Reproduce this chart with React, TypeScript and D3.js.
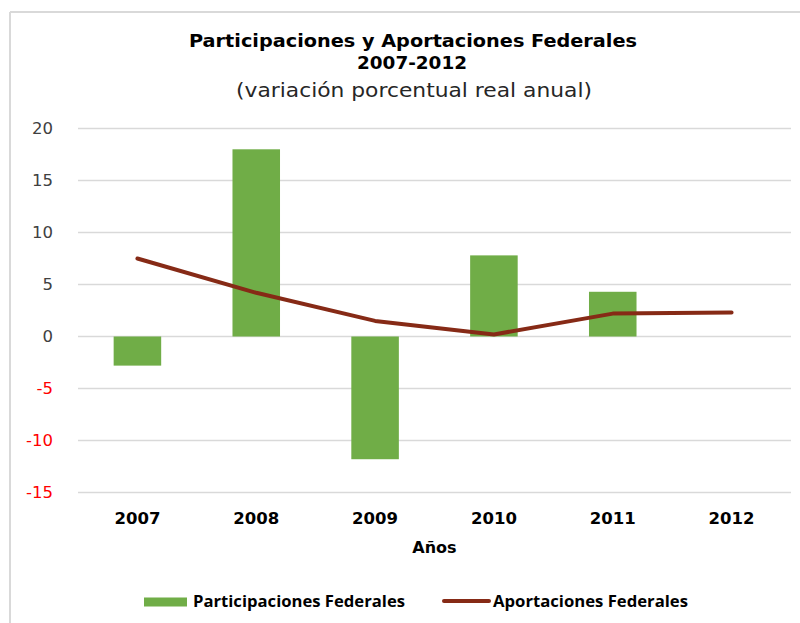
import React from "react";
import * as d3 from "d3";

const years = ["2007", "2008", "2009", "2010", "2011", "2012"];
const participaciones: (number | null)[] = [-2.8, 18.0, -11.8, 7.8, 4.3, null];
const aportaciones = [7.5, 4.2, 1.5, 0.2, 2.2, 2.3];
const yTicks = [-15, -10, -5, 0, 5, 10, 15, 20];

const titleLines = ["Participaciones y Aportaciones Federales", "2007-2012"];
const subtitle = "(variación porcentual real anual)";
const xTitle = "Años";
const seriesNames = ["Participaciones Federales", "Aportaciones Federales"];

const W = 800;
const H = 623;
const left = 78;
const right = 791;
const top = 128.5;
const bottom = 492.5;
const green = "#70AD47";
const brown = "#862A16";
const gridColor = "#D9D9D9";

export default function App() {
  const x = d3.scaleBand<string>().domain(years).range([left, right]).padding(0);
  const y = d3.scaleLinear().domain([-15, 20]).range([bottom, top]);
  const barW = x.bandwidth() * 0.4;
  const cx = (d: string) => (x(d) as number) + x.bandwidth() / 2;

  const line = d3
    .line<number>()
    .x((_, i) => cx(years[i]))
    .y((v) => y(v));

  return (
    <svg
      width={W}
      height={H}
      style={{ position: "absolute", left: 0, top: 0, background: "#fff" }}
    >
      <rect x={0} y={0} width={W} height={H} fill="#fff" />
      {/* frame */}
      <line x1={10} y1={12} x2={W} y2={12} stroke={gridColor} strokeWidth={2} />
      <line x1={10} y1={12} x2={10} y2={H} stroke={gridColor} strokeWidth={2} />

      {/* title */}
      <text
        x={413}
        y={46.7}
        textAnchor="middle"
        fontFamily="DejaVu Sans"
        fontWeight="bold"
        fontSize={18.5}
        textLength={448}
        lengthAdjust="spacingAndGlyphs"
        fill="#000"
      >
        {titleLines[0]}
      </text>
      <text
        x={412}
        y={69}
        textAnchor="middle"
        fontFamily="DejaVu Sans"
        fontWeight="bold"
        fontSize={18.5}
        textLength={110}
        lengthAdjust="spacingAndGlyphs"
        fill="#000"
      >
        {titleLines[1]}
      </text>
      <text
        x={414}
        y={97}
        textAnchor="middle"
        fontFamily="DejaVu Sans"
        fontSize={19}
        textLength={356}
        lengthAdjust="spacingAndGlyphs"
        fill="#262626"
      >
        {subtitle}
      </text>

      {/* gridlines */}
      {yTicks.map((t) => (
        <line
          key={t}
          x1={left}
          x2={right}
          y1={y(t)}
          y2={y(t)}
          stroke={gridColor}
          strokeWidth={1.5}
        />
      ))}
      {/* y tick labels */}
      {yTicks.map((t) => (
        <text
          key={"l" + t}
          x={53}
          y={y(t)}
          dy="0.36em"
          textAnchor="end"
          fontFamily="DejaVu Sans"
          fontSize={16.5}
          fill={t < 0 ? "#FF0000" : "#404040"}
        >
          {t}
        </text>
      ))}

      {/* bars */}
      {participaciones.map((v, i) =>
        v === null ? null : (
          <rect
            key={years[i]}
            x={cx(years[i]) - barW / 2}
            y={y(Math.max(0, v))}
            width={barW}
            height={Math.abs(y(v) - y(0))}
            fill={green}
          />
        )
      )}

      {/* line */}
      <path
        d={line(aportaciones) || ""}
        fill="none"
        stroke={brown}
        strokeWidth={4}
        strokeLinejoin="round"
        strokeLinecap="round"
      />

      {/* x labels */}
      {years.map((yr) => (
        <text
          key={yr}
          x={cx(yr)}
          y={524}
          textAnchor="middle"
          fontFamily="DejaVu Sans"
          fontWeight="bold"
          fontSize={16.5}
          fill="#000"
        >
          {yr}
        </text>
      ))}
      <text
        x={(left + right) / 2}
        y={553}
        textAnchor="middle"
        fontFamily="DejaVu Sans"
        fontWeight="bold"
        fontSize={16}
        fill="#000"
      >
        {xTitle}
      </text>

      {/* legend */}
      <rect x={144} y={597.5} width={43} height={9} fill={green} />
      <text
        x={193}
        y={607}
        fontFamily="Open Sans"
        fontWeight="bold"
        fontSize={15.5}
        textLength={212}
        lengthAdjust="spacingAndGlyphs"
        fill="#000"
      >
        {seriesNames[0]}
      </text>
      <line
        x1={444}
        x2={489}
        y1={601}
        y2={601}
        stroke={brown}
        strokeWidth={4}
        strokeLinecap="round"
      />
      <text
        x={493}
        y={607}
        fontFamily="Open Sans"
        fontWeight="bold"
        fontSize={15.5}
        textLength={195}
        lengthAdjust="spacingAndGlyphs"
        fill="#000"
      >
        {seriesNames[1]}
      </text>
    </svg>
  );
}
